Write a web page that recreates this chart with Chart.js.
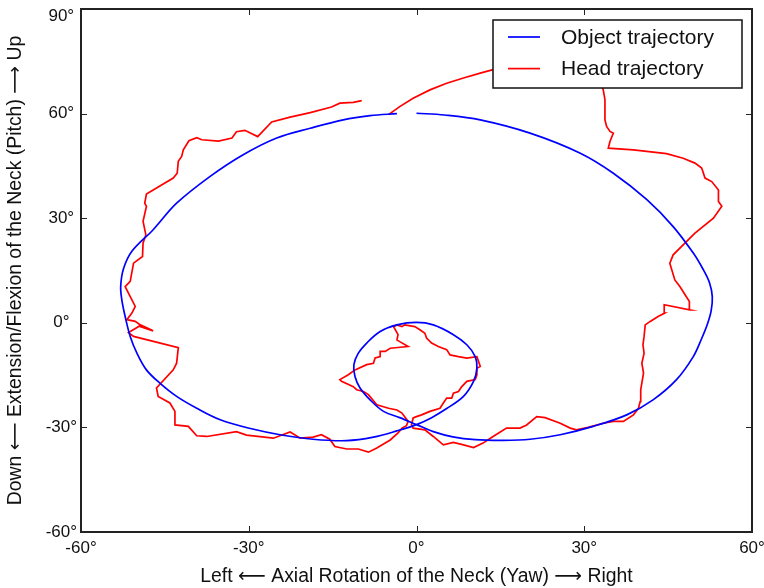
<!DOCTYPE html>
<html>
<head>
<meta charset="utf-8">
<script src="https://cdn.jsdelivr.net/npm/chart.js@4/dist/chart.umd.min.js"></script>
<style>
  html, body { margin: 0; padding: 0; background: #ffffff; }
  canvas { display: block; }
</style>
</head>
<body>
<canvas id="chart" width="764" height="588"></canvas>
<script>
// Axis ticks (degrees)
const yawTicks = [-60, -30, 0, 30, 60];
const pitchTicks = [-60, -30, 0, 30, 60, 90];

// Target path shown to the subject (yaw, pitch in degrees)
const objectYaw = [0, 5, 11.4, 20.3, 29.2, 35.2, 41.2, 45.9, 49.5, 51.2, 52.4, 52.9, 52.7, 52.0, 51.0, 49.5, 46.5, 42.3, 37.6, 31.6, 25.7, 20.3, 15.5, 10.5, 6.5, 3.0, 0, -3.0, -5.9, -8.3, -10.1, -11.0, -11.2, -10.4, -8.9, -6.5, -3.5, 0, 3.0, 6.6, 9.0, 10.5, 10.8, 10.2, 8.4, 5.4, 2.7, 0, -3.5, -7.7, -12.5, -18.5, -24.4, -29.5, -35.1, -39.3, -42.9, -45.9, -48.3, -50.0, -51.2, -52.1, -52.7, -52.9, -52.4, -50.9, -47.1, -42.9, -36.9, -31.0, -25.0, -19.0, -13.1, -8.3, -3.5];
const objectPitch = [60.1, 59.6, 58.2, 54.4, 48.7, 42.9, 35.3, 27.6, 20.0, 15.5, 11.5, 7.5, 3.5, -0.5, -4.5, -9.7, -16.3, -22.1, -26.4, -29.7, -32.1, -33.4, -33.7, -33.5, -32.7, -31.2, -29.2, -27.2, -25.4, -22.1, -18.7, -15.4, -12.0, -8.7, -5.8, -2.5, -0.6, 0.1, -0.6, -3.4, -6.3, -9.7, -13.0, -16.8, -21.1, -24.6, -27.2, -29.2, -31.0, -32.8, -33.8, -33.4, -32.1, -30.4, -27.8, -24.5, -21.1, -17.3, -13.5, -8.7, -3.9, 1.8, 6.6, 10.5, 15.5, 20.5, 26.7, 34.3, 42.0, 48.2, 53.0, 55.8, 58.2, 59.4, 60.0];

// Recorded head orientation (yaw, pitch in degrees)
const headYaw = [-9.8, -11.3, -13.7, -15.2, -19.0, -22.6, -25.9, -28.4, -30.7, -32.2, -33.0, -35.4, -38.4, -39.3, -40.7, -41.7, -42.0, -42.6, -42.8, -43.5, -48.3, -48.6, -48.3, -48.9, -48.4, -48.9, -49.0, -50.6, -51.2, -51.8, -52.1, -50.3, -50.9, -51.8, -50.3, -49.4, -47.1, -49.6, -51.5, -50.6, -42.6, -42.9, -43.5, -46.5, -46.2, -44.1, -43.2, -43.2, -40.8, -39.3, -37.5, -32.2, -30.4, -25.6, -22.6, -20.8, -18.5, -17.0, -15.5, -14.6, -12.5, -10.4, -8.6, -7.1, -4.7, -3.3, -2.6, -1.8, -1.5, -2.6, -3.5, -5.0, -7.1, -8.6, -9.5, -10.7, -11.3, -13.4, -13.7, -12.2, -11.0, -8.9, -7.7, -7.4, -6.5, -6.5, -5.6, -4.7, -1.5, -3.0, -3.5, -3.3, -4.1, -3.5, -2.6, -2.1, -0.3, 0.6, 1.5, 1.8, 2.7, 3.9, 5.4, 6.0, 7.5, 9.0, 10.8, 11.1, 11.4, 10.8, 10.8, 10.5, 9.0, 8.1, 7.5, 6.6, 6.3, 5.4, 4.8, 4.2, 2.4, 0.9, 0.0, -0.6, -0.9, -0.6, 1.5, 3.0, 4.8, 6.6, 8.4, 10.2, 11.9, 13.7, 16.1, 18.5, 19.7, 21.5, 23.0, 25.7, 27.5, 28.6, 30.7, 33.4, 35.2, 37.0, 38.8, 39.7, 40.0, 40.1, 40.3, 40.6, 40.3, 40.7, 40.5, 40.7, 40.9, 41.8, 43.2, 44.4, 44.3, 48.9, 48.8, 47.1, 46.2, 45.3, 45.9, 49.8, 53.1, 54.6, 54.0, 54.0, 52.8, 51.6, 51.0, 49.8, 47.7, 44.7, 38.8, 34.3, 34.6, 35.2, 34.6, 34.0, 33.7, 33.7, 33.4, 33.0, 31.5, 28.0, 23.0, 18.0, 13.7, 11.4, 8.4, 5.4, 2.4, -0.6, -3.0, -5.0];
const headPitch = [63.7, 63.2, 63.0, 61.9, 60.3, 59.0, 57.6, 53.4, 55.2, 54.8, 53.0, 52.1, 52.5, 53.1, 52.2, 49.6, 47.7, 46.3, 42.9, 41.5, 36.9, 34.3, 33.4, 29.1, 25.2, 22.9, 19.0, 17.1, 11.9, 10.9, 10.4, 4.7, 2.8, 0.9, 0.4, -0.6, -2.3, -1.0, -2.8, -3.9, -7.1, -11.6, -13.5, -18.7, -21.1, -23.0, -25.4, -29.3, -29.7, -32.4, -32.6, -31.2, -32.2, -33.1, -31.3, -33.1, -32.8, -32.1, -33.4, -35.5, -36.2, -36.2, -37.1, -35.9, -33.6, -31.6, -30.2, -29.5, -28.3, -25.9, -25.0, -24.5, -23.5, -20.6, -19.7, -19.2, -18.3, -16.8, -16.3, -14.9, -13.5, -12.0, -11.6, -10.1, -9.7, -8.2, -8.2, -7.3, -6.8, -5.4, -4.9, -3.4, -1.1, -0.6, -1.1, -0.6, -1.1, -2.0, -3.0, -4.4, -5.8, -6.8, -7.7, -9.2, -9.7, -10.1, -9.7, -11.1, -12.5, -13.0, -14.9, -16.3, -16.8, -18.3, -19.7, -20.2, -21.6, -21.6, -23.0, -24.5, -25.4, -26.4, -26.9, -27.3, -29.3, -30.2, -30.7, -32.6, -35.0, -34.3, -35.0, -35.8, -34.5, -32.6, -30.2, -30.2, -29.3, -26.9, -27.2, -28.8, -30.2, -30.7, -30.0, -28.8, -28.3, -28.3, -26.4, -24.5, -22.6, -19.2, -17.3, -14.4, -11.6, -8.7, -6.3, -3.9, -0.6, 0.4, 1.8, 2.8, 5.2, 3.7, 6.1, 10.4, 12.3, 17.1, 19.5, 25.7, 30.0, 33.4, 34.8, 38.1, 40.5, 41.5, 44.4, 45.8, 47.2, 48.5, 49.6, 50.1, 52.0, 54.4, 54.9, 56.3, 58.2, 64.0, 66.8, 69.0, 72.5, 74.8, 75.5, 74.2, 72.6, 71.6, 70.2, 68.7, 66.8, 64.4, 62.0, 59.7];

const seriesNames = ['Object trajectory', 'Head trajectory'];
const seriesColors = ['#0000ff', '#ff0000'];

const toPoints = (xs, ys) => xs.map((x, i) => ({ x: x, y: ys[i] }));
const degree = v => v + '\u00b0';
const FONT = 'Liberation Sans, Arial, DejaVu Sans, sans-serif';
const FRAME = '#222222';

// Boxed frame with inward ticks on all four sides, plus a boxed legend over the data
const framePlugin = {
  id: 'frameAndLegend',
  afterDatasetsDraw(chart) {
    const { ctx, chartArea: a, scales } = chart;
    const tick = 6;
    ctx.save();
    ctx.strokeStyle = FRAME;
    ctx.lineWidth = 1;
    ctx.beginPath();
    yawTicks.forEach(v => {
      const px = Math.round(scales.x.getPixelForValue(v)) + 0.5;
      ctx.moveTo(px, a.bottom); ctx.lineTo(px, a.bottom - tick);
      ctx.moveTo(px, a.top); ctx.lineTo(px, a.top + tick);
    });
    pitchTicks.forEach(v => {
      const py = Math.round(scales.y.getPixelForValue(v)) + 0.5;
      ctx.moveTo(a.left, py); ctx.lineTo(a.left + tick, py);
      ctx.moveTo(a.right, py); ctx.lineTo(a.right - tick, py);
    });
    ctx.stroke();
    ctx.lineWidth = 2;
    ctx.strokeRect(a.left, a.top, a.right - a.left, a.bottom - a.top);

    // legend
    const bw = 249, bh = 68;
    const bx = a.right - 10 - bw, by = a.top + 11;
    ctx.fillStyle = '#ffffff';
    ctx.fillRect(bx, by, bw, bh);
    ctx.lineWidth = 1.5;
    ctx.strokeStyle = '#111111';
    ctx.strokeRect(bx, by, bw, bh);
    ctx.font = '21px ' + FONT;
    ctx.textBaseline = 'middle';
    ctx.textAlign = 'left';
    chart.data.datasets.forEach((ds, i) => {
      const ry = by + 17 + i * 31.6;
      ctx.strokeStyle = ds.borderColor;
      ctx.lineWidth = 1.7;
      ctx.beginPath();
      ctx.moveTo(bx + 15, ry); ctx.lineTo(bx + 47, ry);
      ctx.stroke();
      ctx.fillStyle = '#111111';
      ctx.fillText(ds.label, bx + 68, ry + 1);
    });
    ctx.restore();
  }
};

// The topmost pitch label sits a little below its tick, inside the canvas
const pitchLabel = v => (v === 90 ? ['', degree(v)] : degree(v));
const pitchFont = c => ({
  family: FONT,
  size: 17,
  lineHeight: (c.tick && c.tick.value === 90) ? 0.82 : 1.2
});

new Chart(document.getElementById('chart'), {
  type: 'scatter',
  data: {
    datasets: [
      {
        label: seriesNames[0],
        data: toPoints(objectYaw, objectPitch),
        showLine: true,
        borderColor: seriesColors[0],
        borderWidth: 1.7,
        tension: 0.35,
        pointRadius: 0,
        fill: false
      },
      {
        label: seriesNames[1],
        data: toPoints(headYaw, headPitch),
        showLine: true,
        borderColor: seriesColors[1],
        borderWidth: 1.7,
        tension: 0,
        pointRadius: 0,
        fill: false
      }
    ]
  },
  options: {
    responsive: false,
    devicePixelRatio: 1,
    animation: false,
    layout: { padding: { top: 9, right: 12, left: 0, bottom: 0 } },
    plugins: {
      legend: { display: false },
      tooltip: { enabled: false }
    },
    scales: {
      x: {
        type: 'linear',
        min: -60, max: 60,
        afterBuildTicks: s => { s.ticks = yawTicks.map(v => ({ value: v })); },
        afterFit: s => { s.height = 56; s.paddingLeft = 0; s.paddingRight = 0; },
        grid: { display: false, drawTicks: false },
        border: { display: false },
        ticks: {
          callback: degree,
          color: '#111111',
          padding: 6,
          maxRotation: 0,
          font: { family: FONT, size: 17 }
        },
        title: {
          display: true,
          text: 'Left \u27f5 Axial Rotation of the Neck (Yaw) \u27f6 Right',
          color: '#111111',
          padding: { top: 0, bottom: 0 },
          font: { family: FONT, size: 19.4 }
        }
      },
      y: {
        type: 'linear',
        min: -60, max: 90,
        afterBuildTicks: s => { s.ticks = pitchTicks.map(v => ({ value: v })); },
        afterFit: s => { s.width = 81; s.paddingTop = 0; s.paddingBottom = 0; },
        grid: { display: false, drawTicks: false },
        border: { display: false },
        ticks: {
          callback: pitchLabel,
          color: '#111111',
          padding: 4,
          crossAlign: 'center',
          font: pitchFont
        },
        title: {
          display: true,
          text: 'Down \u27f5 Extension/Flexion of the Neck (Pitch) \u27f6 Up',
          color: '#111111',
          padding: { top: 4, bottom: 0 },
          font: { family: FONT, size: 19.4 }
        }
      }
    }
  },
  plugins: [framePlugin]
});
</script>
</body>
</html>
